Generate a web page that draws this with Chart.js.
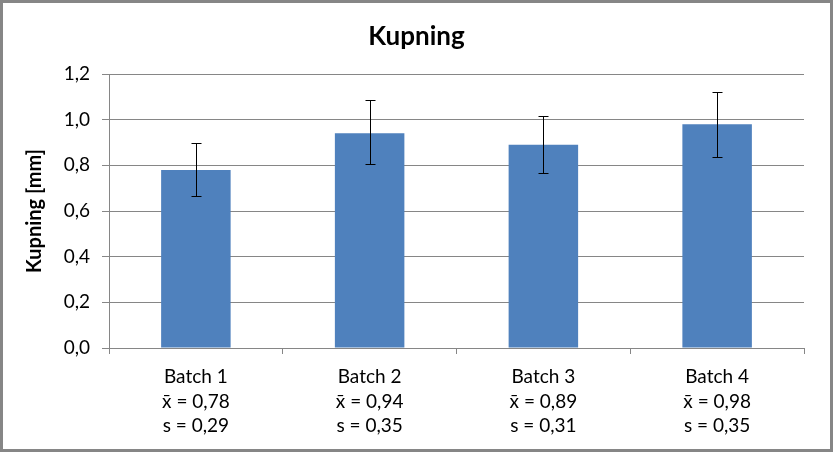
<!DOCTYPE html>
<html>
<head>
<meta charset="utf-8">
<script src="https://cdn.jsdelivr.net/npm/chart.js@4"></script>
<style>
  html, body { margin: 0; padding: 0; background: #fff; }
  #wrap { width: 833px; height: 452px; }
</style>
</head>
<body>
<div id="wrap"><canvas id="myChart" width="833" height="452"></canvas></div>
<script>
var batches = ['Batch 1', 'Batch 2', 'Batch 3', 'Batch 4'];
var meanLabels = ['x\u0304 = 0,78', 'x\u0304 = 0,94', 'x\u0304 = 0,89', 'x\u0304 = 0,98'];
var sdLabels = ['s = 0,29', 's = 0,35', 's = 0,31', 's = 0,35'];
var kupning = [0.78, 0.94, 0.89, 0.98];
var errLow = [0.665, 0.807, 0.766, 0.836];
var errHigh = [0.898, 1.086, 1.015, 1.121];

var fontName = 'Lato, "Open Sans", sans-serif';

var frame = {
    id: 'frame',
    beforeDraw: function(chart) {
        var ctx = chart.ctx;
        ctx.save();
        ctx.fillStyle = '#ffffff';
        ctx.fillRect(0, 0, chart.width, chart.height);
        ctx.restore();
    },
    afterDraw: function(chart) {
        var ctx = chart.ctx;
        ctx.save();
        ctx.strokeStyle = '#868686';
        ctx.lineWidth = 3;
        ctx.strokeRect(1.5, 1.5, chart.width - 3, chart.height - 3);
        ctx.restore();
    }
};

var errorBars = {
    id: 'errorBars',
    afterDatasetsDraw: function(chart) {
        var ctx = chart.ctx;
        var y = chart.scales.y;
        var meta = chart.getDatasetMeta(0);
        ctx.save();
        ctx.strokeStyle = '#000000';
        ctx.lineWidth = 1;
        meta.data.forEach(function(bar, i) {
            var x = Math.round(bar.x) + 0.5;
            var top = Math.round(y.getPixelForValue(errHigh[i])) + 0.5;
            var bottom = Math.round(y.getPixelForValue(errLow[i])) + 0.5;
            ctx.beginPath();
            ctx.moveTo(x, top);
            ctx.lineTo(x, bottom);
            ctx.moveTo(x - 5, top);
            ctx.lineTo(x + 5, top);
            ctx.moveTo(x - 5, bottom);
            ctx.lineTo(x + 5, bottom);
            ctx.stroke();
        });
        ctx.restore();
    }
};

var chart = new Chart(document.getElementById('myChart').getContext('2d'), {
    type: 'bar',
    data: {
        labels: batches.map(function(b, i) {
            return [b, meanLabels[i], sdLabels[i]];
        }),
        datasets: [{
            label: 'Kupning',
            data: kupning,
            backgroundColor: '#4F81BD',
            borderWidth: 0,
            barPercentage: 0.4,
            categoryPercentage: 1.0
        }]
    },
    options: {
        responsive: false,
        animation: false,
        layout: { padding: 0 },
        plugins: {
            legend: { display: false },
            tooltip: { enabled: false },
            title: {
                display: true,
                text: 'Kupning',
                color: '#000000',
                font: { family: fontName, size: 26, weight: 'bold', lineHeight: 1.2 },
                padding: { top: 21.4, bottom: 21.4 }
            }
        },
        scales: {
            x: {
                grid: {
                    offset: true,
                    drawOnChartArea: false,
                    drawTicks: true,
                    tickLength: 6,
                    color: '#868686'
                },
                border: { color: '#868686', width: 1 },
                ticks: {
                    color: '#000000',
                    padding: 10.75,
                    maxRotation: 0,
                    font: { family: fontName, size: 19, lineHeight: 1.29 }
                },
                afterFit: function(scale) { scale.height = 104; }
            },
            y: {
                min: 0,
                max: 1.2,
                ticks: {
                    stepSize: 0.1,
                    color: '#000000',
                    padding: 12,
                    font: { family: fontName, size: 19 },
                    callback: function(v) {
                        var k = Math.round(v * 10);
                        if (k % 2 !== 0) return '';
                        return (k / 10).toFixed(1).replace('.', ',');
                    }
                },
                grid: {
                    tickLength: 7,
                    color: function(c) {
                        var k = Math.round(c.tick.value * 10);
                        return k % 2 === 0 ? '#868686' : '#bfbfbf';
                    },
                    tickColor: function(c) {
                        var k = Math.round(c.tick.value * 10);
                        return k % 2 === 0 ? '#868686' : 'rgba(0,0,0,0)';
                    }
                },
                border: { color: '#868686', width: 1 },
                title: {
                    display: true,
                    text: 'Kupning [mm]',
                    color: '#000000',
                    font: { family: fontName, size: 20, weight: 'bold', lineHeight: 1.2 },
                    padding: { top: 23, bottom: 0 }
                },
                afterFit: function(scale) { scale.width = 109; }
            },
            // empty right axis, only keeps the plot clear of the right edge
            yRight: {
                type: 'linear',
                position: 'right',
                min: 0,
                max: 1.2,
                grid: { display: false },
                ticks: { display: false },
                border: { display: false },
                afterFit: function(scale) { scale.width = 29; }
            }
        }
    },
    plugins: [frame, errorBars]
});
</script>
</body>
</html>
